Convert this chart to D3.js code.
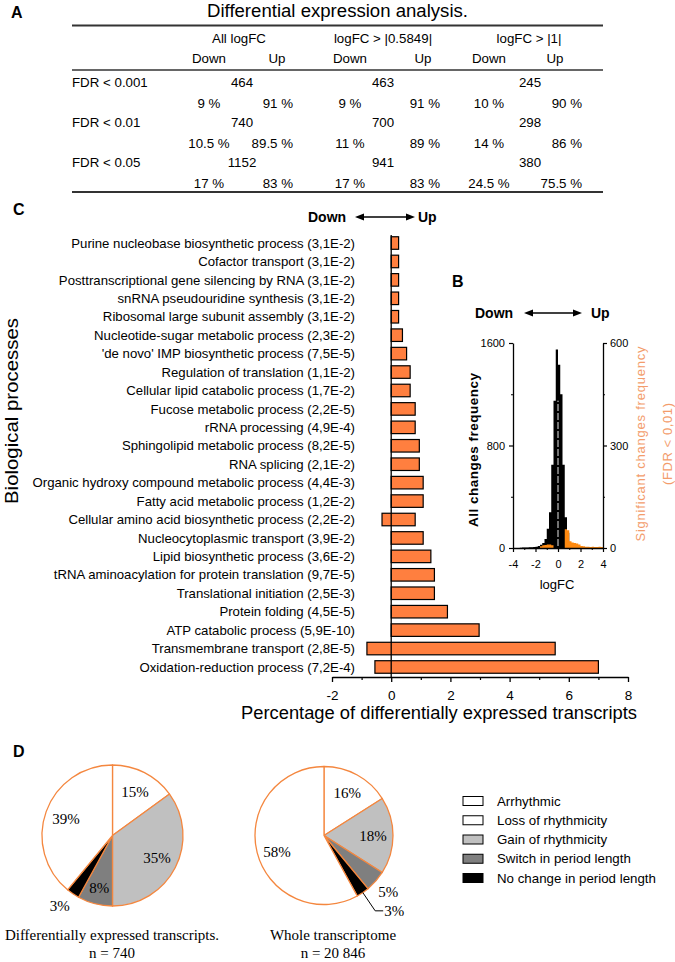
<!DOCTYPE html>
<html><head><meta charset="utf-8">
<script src="https://cdn.jsdelivr.net/npm/d3@7"></script>
<style>
body{margin:0;background:#fff}
svg{display:block}
text{font-family:"Liberation Sans",Arial,sans-serif;fill:#000}
</style>
</head><body>
<svg id="c" width="675" height="962"></svg>
<script>
// ================= DATA =================
// Panel A table
const tableTitle = "Differential expression analysis.";
const tableGroups = ["All logFC", "logFC > |0.5849|", "logFC > |1|"];
const tableRows = ["FDR < 0.001", "FDR < 0.01", "FDR < 0.05"];
const tableTotals = [[464, 463, 245], [740, 700, 298], [1152, 941, 380]];
const tableDown = [["9 %", "9 %", "10 %"], ["10.5 %", "11 %", "14 %"], ["17 %", "17 %", "24.5 %"]];
const tableUp = [["91 %", "91 %", "90 %"], ["89.5 %", "89 %", "86 %"], ["83 %", "83 %", "75.5 %"]];

// Panel C bars
const processes = [
  "Purine nucleobase biosynthetic process (3,1E-2)",
  "Cofactor transport (3,1E-2)",
  "Posttranscriptional gene silencing by RNA (3,1E-2)",
  "snRNA pseudouridine synthesis (3,1E-2)",
  "Ribosomal large subunit assembly (3,1E-2)",
  "Nucleotide-sugar metabolic process (2,3E-2)",
  "'de novo' IMP biosynthetic process (7,5E-5)",
  "Regulation of translation (1,1E-2)",
  "Cellular lipid catabolic process (1,7E-2)",
  "Fucose metabolic process (2,2E-5)",
  "rRNA processing (4,9E-4)",
  "Sphingolipid metabolic process (8,2E-5)",
  "RNA splicing (2,1E-2)",
  "Organic hydroxy compound metabolic process (4,4E-3)",
  "Fatty acid metabolic process (1,2E-2)",
  "Cellular amino acid biosynthetic process (2,2E-2)",
  "Nucleocytoplasmic transport (3,9E-2)",
  "Lipid biosynthetic process (3,6E-2)",
  "tRNA aminoacylation for protein translation (9,7E-5)",
  "Translational initiation (2,5E-3)",
  "Protein folding (4,5E-5)",
  "ATP catabolic process (5,9E-10)",
  "Transmembrane transport (2,8E-5)",
  "Oxidation-reduction process (7,2E-4)"
];
const upPct =   [0.25, 0.25, 0.25, 0.25, 0.25, 0.38, 0.52, 0.64, 0.64, 0.81, 0.81, 0.95, 0.95, 1.08, 1.08, 0.81, 1.08, 1.34, 1.46, 1.46, 1.90, 2.97, 5.54, 7.00];
const downPct = [0, 0, 0, 0, 0, 0, 0, 0, 0, 0, 0, 0, 0, 0, 0, 0.31, 0, 0, 0, 0, 0, 0, 0.82, 0.55];
const xTicksC = [-2, 0, 2, 4, 6, 8];
const xMinorC = [-1, 1, 3, 5, 7];

// Panel B histogram (bin start in logFC, bin width 0.2)
const allBinStart = [-3.4, -3.2, -3.0, -2.8, -2.6, -2.4, -2.2, -2.0, -1.8, -1.6, -1.4, -1.2, -1.0, -0.8, -0.6, -0.4, -0.2, 0.0, 0.2, 0.4, 0.6, 0.8, 1.0, 1.2, 1.4, 1.6, 1.8, 2.0];
const allFreq =     [2, 3, 4, 4, 5, 6, 8, 10, 15, 25, 40, 70, 150, 280, 650, 1150, 1550, 1430, 1200, 650, 240, 120, 40, 30, 25, 20, 15, 10];
const sigBinStart = [-1.6, -1.4, -1.2, -1.0, -0.8, -0.6, 0.6, 0.8, 1.0, 1.2, 1.4, 1.6, 1.8, 2.0, 2.2, 2.4, 2.6, 2.8, 3.0, 3.2, 3.4, 3.6, 3.8];
const sigFreq =     [5, 8, 9, 10, 10, 8, 55, 52, 20, 16, 15, 13, 10, 6, 5, 4, 4, 3, 4, 3, 3, 4, 3];
const binWidth = 0.2;
const leftTicksB = [0, 800, 1600];
const rightTicksB = [0, 300, 600];
const xTicksB = [-4, -2, 0, 2, 4];

// Panel D pies
const pieCategories = ["Loss of rhythmicity", "Gain of rhythmicity", "Switch in period length", "No change in period length", "Arrhythmic"];
const pieDiffExpr = [15, 35, 8, 3, 39];
const pieWhole = [16, 18, 5, 3, 58];
const legendOrder = ["Arrhythmic", "Loss of rhythmicity", "Gain of rhythmicity", "Switch in period length", "No change in period length"];
const pieCaptions = [["Differentially expressed transcripts.", "n = 740"], ["Whole transcriptome", "n = 20 846"]];

// ================= STYLE =================
const ORANGE = "#FF7F3F";
const PIE_STROKE = "#F4873F";
const LIGHT_ORANGE = "#F39C6B";
const SERIF = '"Liberation Serif","Times New Roman",serif';
const sliceFill = {
  "Arrhythmic": "#ffffff",
  "Loss of rhythmicity": "#ffffff",
  "Gain of rhythmicity": "#c0c0c0",
  "Switch in period length": "#7f7f7f",
  "No change in period length": "#000000"
};

const svg = d3.select("#c");

function panelLabel(t, x, y) {
  svg.append("text").attr("x", x).attr("y", y).attr("font-size", 16).attr("font-weight", "bold").text(t);
}
function dblArrow(x1, x2, y) {
  const g = svg.append("g");
  g.append("line").attr("x1", x1 + 5).attr("x2", x2 - 5).attr("y1", y).attr("y2", y).attr("stroke", "#000").attr("stroke-width", 1.6);
  g.append("path").attr("d", `M${x1},${y}L${x1 + 9},${y - 3.6}L${x1 + 9},${y + 3.6}Z`).attr("fill", "#000");
  g.append("path").attr("d", `M${x2},${y}L${x2 - 9},${y - 3.6}L${x2 - 9},${y + 3.6}Z`).attr("fill", "#000");
}

// ================= PANEL A =================
panelLabel("A", 11, 18);
{
  const L = 72, R = 603;
  svg.append("text").attr("x", (L + R) / 2).attr("y", 17).attr("text-anchor", "middle").attr("font-size", 17.5)
    .attr("textLength", 261).attr("lengthAdjust", "spacingAndGlyphs").text(tableTitle);
  [[25.5, 2], [70, 1.6], [192, 2]].forEach(([y, w]) =>
    svg.append("line").attr("x1", L).attr("x2", R).attr("y1", y).attr("y2", y).attr("stroke", "#333").attr("stroke-width", w));
  const groupX = [239, 383, 529];
  const countX = [242, 383, 530];
  const downX = [209, 350, 489];
  const upHeadX = [277, 423, 555];
  const upValEnd = [293, 440, 582];
  const rowY = [82, 122, 162];
  const fs = 13.3;
  const T = (x, y, t, anchor) => svg.append("text").attr("x", x).attr("y", y).attr("dy", "0.35em")
      .attr("text-anchor", anchor || "middle").attr("font-size", fs).text(t);
  tableGroups.forEach((g, j) => {
    T(groupX[j], 38, g);
    T(downX[j], 58, "Down");
    T(upHeadX[j], 58, "Up");
  });
  tableRows.forEach((r, i) => {
    T(L, rowY[i], r, "start");
    tableGroups.forEach((g, j) => {
      T(countX[j], rowY[i], tableTotals[i][j]);
      T(downX[j], rowY[i] + 21, tableDown[i][j]);
      T(upValEnd[j], rowY[i] + 21, tableUp[i][j], "end");
    });
  });
}

// ================= PANEL C =================
panelLabel("C", 13, 215);
svg.append("text").attr("x", 308).attr("y", 217).attr("dy", "0.35em").attr("font-size", 14).attr("font-weight", "bold").text("Down");
dblArrow(355, 415, 217);
svg.append("text").attr("x", 418).attr("y", 217).attr("dy", "0.35em").attr("font-size", 14).attr("font-weight", "bold").text("Up");
{
  const xC = d3.scaleLinear().domain([-2, 8]).range([332, 628]);
  const yC = d3.scaleBand().domain(processes).range([233.8, 676.2]).paddingInner(0.32).paddingOuter(0.16);
  const axisY = 677;
  const g = svg.append("g");
  g.selectAll("rect.bar").data(processes).join("rect").attr("class", "bar")
    .attr("x", (d, i) => xC(-downPct[i]))
    .attr("width", (d, i) => xC(upPct[i]) - xC(-downPct[i]))
    .attr("y", d => yC(d))
    .attr("height", yC.bandwidth())
    .attr("fill", ORANGE).attr("stroke", "#000").attr("stroke-width", 1.2);
  g.selectAll("text.lab").data(processes).join("text").attr("class", "lab")
    .attr("x", 355).attr("y", d => yC(d) + yC.bandwidth() / 2).attr("dy", "0.35em")
    .attr("text-anchor", "end").attr("font-size", 13.2).text(d => d);
  // zero line
  g.append("line").attr("x1", xC(0)).attr("x2", xC(0)).attr("y1", 235).attr("y2", axisY).attr("stroke", "#000").attr("stroke-width", 1.3);
  // x axis
  const ax = g.append("g").attr("transform", `translate(0,${axisY})`)
    .call(d3.axisBottom(xC).tickValues(xTicksC).tickSize(5).tickSizeOuter(0).tickPadding(8).tickFormat(d => String(d)));
  ax.select(".domain").attr("stroke-width", 1.3);
  ax.selectAll(".tick line").attr("stroke-width", 1.3);
  ax.selectAll("text").attr("font-size", 13.5).attr("font-family", '"Liberation Sans",Arial,sans-serif');
  const axm = g.append("g").attr("transform", `translate(0,${axisY})`)
    .call(d3.axisBottom(xC).tickValues(xMinorC).tickSize(3).tickSizeOuter(0).tickFormat(""));
  axm.select(".domain").remove();
  axm.selectAll(".tick line").attr("stroke-width", 1.2);
  svg.append("text").attr("x", 439).attr("y", 713).attr("dy", "0.35em").attr("text-anchor", "middle").attr("font-size", 17.5)
    .attr("textLength", 396).attr("lengthAdjust", "spacingAndGlyphs")
    .text("Percentage of differentially expressed transcripts");
  svg.append("text").attr("transform", "translate(12,411) rotate(-90)").attr("dy", "0.35em").attr("text-anchor", "middle").attr("font-size", 17.5)
    .attr("textLength", 186).attr("lengthAdjust", "spacingAndGlyphs")
    .text("Biological processes");
}

// ================= PANEL B =================
panelLabel("B", 452, 287);
svg.append("text").attr("x", 475).attr("y", 313).attr("dy", "0.35em").attr("font-size", 14).attr("font-weight", "bold").text("Down");
dblArrow(524, 582, 313);
svg.append("text").attr("x", 591).attr("y", 313).attr("dy", "0.35em").attr("font-size", 14).attr("font-weight", "bold").text("Up");
{
  const x0 = 513, x1 = 603, yTop = 343, yBot = 548;
  const xB = d3.scaleLinear().domain([-4, 4]).range([x0, x1]);
  const yBL = d3.scaleLinear().domain([0, 1600]).range([yBot, yTop]);
  const yBR = d3.scaleLinear().domain([0, 600]).range([yBot, yTop]);
  const g = svg.append("g");
  // step-shaped histogram areas (solid, no seams between bins)
  const stepPts = (starts, freqs) => {
    const pts = starts.map((s, i) => [s, freqs[i]]);
    pts.push([starts[starts.length - 1] + binWidth, freqs[freqs.length - 1]]);
    return pts;
  };
  const areaL = d3.area().curve(d3.curveStepAfter).x(d => xB(d[0])).y0(yBot).y1(d => yBL(d[1]));
  g.append("path").attr("d", areaL(stepPts(allBinStart, allFreq))).attr("fill", "#000");
  // white divider between the two central bins
  g.append("line").attr("x1", xB(0)).attr("x2", xB(0)).attr("y1", yBot - 2).attr("y2", yBL(1150))
    .attr("stroke", "#fff").attr("stroke-width", 0.9).attr("stroke-dasharray", "7,2");
  // significant changes: contiguous runs drawn as step areas
  const runs = [];
  sigBinStart.forEach((s, i) => {
    const last = runs[runs.length - 1];
    if (last && Math.abs(last.starts[last.starts.length - 1] + binWidth - s) < 1e-6) { last.starts.push(s); last.freqs.push(sigFreq[i]); }
    else runs.push({starts: [s], freqs: [sigFreq[i]]});
  });
  const areaR = d3.area().curve(d3.curveStepAfter).x(d => xB(d[0])).y0(yBot).y1(d => yBR(d[1]));
  runs.forEach(r => g.append("path").attr("d", areaR(stepPts(r.starts, r.freqs))).attr("fill", "#FF8A10"));
  const styleAxis = (a, fsz) => {
    a.select(".domain").attr("stroke-width", 1.3);
    a.selectAll(".tick line").attr("stroke-width", 1.2);
    a.selectAll("text").attr("font-size", fsz).attr("font-family", '"Liberation Sans",Arial,sans-serif');
  };
  const aL = g.append("g").attr("transform", `translate(${x0},0)`)
    .call(d3.axisLeft(yBL).tickValues(leftTicksB).tickSize(4).tickSizeOuter(0).tickPadding(4).tickFormat(d => String(d)));
  styleAxis(aL, 11);
  g.append("g").attr("transform", `translate(${x0},0)`)
    .call(d3.axisLeft(yBL).tickValues([400, 1200]).tickSize(2).tickFormat("")).select(".domain").remove();
  const aR = g.append("g").attr("transform", `translate(${x1},0)`)
    .call(d3.axisRight(yBR).tickValues(rightTicksB).tickSize(4).tickSizeOuter(0).tickPadding(3).tickFormat(d => String(d)));
  styleAxis(aR, 11);
  g.append("g").attr("transform", `translate(${x1},0)`)
    .call(d3.axisRight(yBR).tickValues([150, 450]).tickSize(2).tickFormat("")).select(".domain").remove();
  const aB = g.append("g").attr("transform", `translate(0,${yBot})`)
    .call(d3.axisBottom(xB).tickValues(xTicksB).tickSize(4).tickSizeOuter(0).tickPadding(8).tickFormat(d => String(d)));
  styleAxis(aB, 11);
  g.append("g").attr("transform", `translate(0,${yBot})`)
    .call(d3.axisBottom(xB).tickValues([-3, -1, 1, 3]).tickSize(2).tickFormat("")).select(".domain").remove();
  svg.append("text").attr("x", 557).attr("y", 584).attr("dy", "0.35em").attr("text-anchor", "middle").attr("font-size", 13).text("logFC");
  svg.append("text").attr("transform", "translate(473,450) rotate(-90)").attr("dy", "0.35em").attr("text-anchor", "middle")
    .attr("font-size", 13.5).attr("font-weight", 600).attr("textLength", 154).attr("lengthAdjust", "spacing").text("All changes frequency");
  svg.append("text").attr("transform", "translate(640,444) rotate(-90)").attr("dy", "0.35em").attr("text-anchor", "middle")
    .attr("font-size", 13).attr("textLength", 195).attr("lengthAdjust", "spacing").style("fill", LIGHT_ORANGE).text("Significant changes frequency");
  svg.append("text").attr("transform", "translate(667,444) rotate(-90)").attr("dy", "0.35em").attr("text-anchor", "middle")
    .attr("font-size", 13).attr("textLength", 82).attr("lengthAdjust", "spacing").style("fill", LIGHT_ORANGE).text("(FDR < 0,01)");
}

// ================= PANEL D =================
panelLabel("D", 13, 757);
{
  const pies = [
    {vals: pieDiffExpr, cx: 112.5, cy: 835.5, r: 70.5, capX: 112,
     labelR: [0.7, 0.71, 0.76, 1.24, 0.7], labelDA: [0, 0, 0, 0.05, 0], leader: []},
    {vals: pieWhole, cx: 324, cy: 835.5, r: 69, capX: 333,
     labelR: [0.7, 0.71, 1.24, 1.5, 0.72], labelDA: [0, 0, 0, 0, -0.08], leader: [3]}
  ];
  const pieGen = d3.pie().sort(null).value(d => d.v);
  pies.forEach((p, k) => {
    const data = pieGen(pieCategories.map((c, i) => ({c, v: p.vals[i]})));
    const arc = d3.arc().innerRadius(0).outerRadius(p.r);
    const g = svg.append("g").attr("transform", `translate(${p.cx},${p.cy})`);
    g.selectAll("path").data(data).join("path").attr("d", arc)
      .attr("fill", d => sliceFill[d.data.c]).attr("stroke", PIE_STROKE).attr("stroke-width", 1.3).attr("stroke-linejoin", "round");
    data.forEach((d, i) => {
      const a = (d.startAngle + d.endAngle) / 2 + p.labelDA[i];
      const sx = Math.sin(a), sy = -Math.cos(a);
      if (p.leader.includes(i)) {
        const ex = sx * p.r * 1.32, ey = sy * p.r * 1.32;
        g.append("polyline").attr("points", `${sx * p.r},${sy * p.r} ${ex},${ey} ${ex + 8},${ey}`)
          .attr("fill", "none").attr("stroke", "#000").attr("stroke-width", 1);
        g.append("text").attr("x", ex + 9).attr("y", ey).attr("dy", "0.35em").style("font-family", SERIF)
          .attr("font-size", 15).text(d.data.v + "%");
      } else {
        const rr = p.r * p.labelR[i];
        g.append("text").attr("x", sx * rr).attr("y", sy * rr).attr("dy", "0.35em").attr("text-anchor", "middle")
          .style("font-family", SERIF).attr("font-size", 15).text(d.data.v + "%");
      }
    });
    svg.append("text").attr("x", p.capX).attr("y", 935).attr("dy", "0.35em").attr("text-anchor", "middle")
      .style("font-family", SERIF).attr("font-size", 15).text(pieCaptions[k][0]);
    svg.append("text").attr("x", p.capX).attr("y", 953).attr("dy", "0.35em").attr("text-anchor", "middle")
      .style("font-family", SERIF).attr("font-size", 15).text(pieCaptions[k][1]);
  });
  // legend
  const legY = d3.scalePoint().domain(legendOrder).range([801, 878]);
  const lg = svg.append("g");
  lg.selectAll("rect").data(legendOrder).join("rect")
    .attr("x", 463).attr("y", d => legY(d) - 4.5).attr("width", 20).attr("height", 9)
    .attr("fill", d => sliceFill[d]).attr("stroke", "#000").attr("stroke-width", 1);
  lg.selectAll("text").data(legendOrder).join("text")
    .attr("x", 497).attr("y", d => legY(d)).attr("dy", "0.35em").attr("font-size", 13.3).text(d => d);
}
</script>
</body></html>
